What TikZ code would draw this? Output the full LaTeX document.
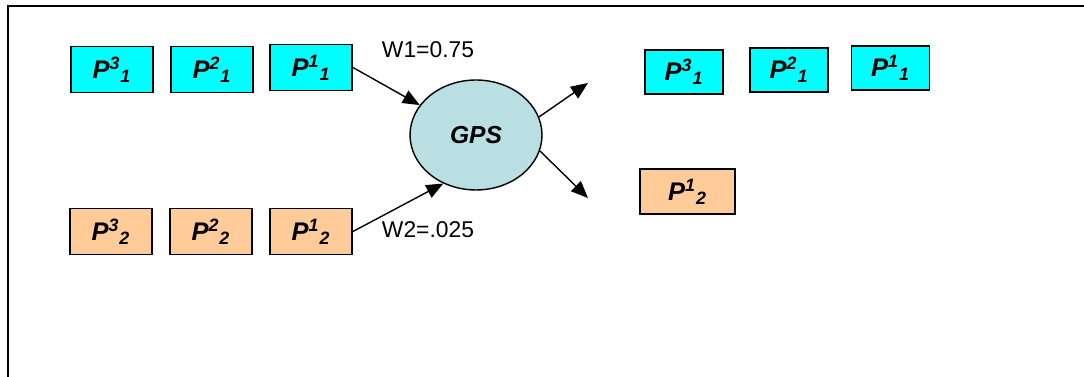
\documentclass[tikz,border=0pt]{standalone}
\usepackage{fontspec}
\setmainfont{Liberation Sans}
\usepackage{xcolor}
\usetikzlibrary{arrows.meta, shapes.geometric}

\definecolor{pktA}{RGB}{0,255,255}
\definecolor{pktB}{RGB}{255,204,153}
\definecolor{gpsfill}{RGB}{186,223,227}

\newcommand{\pkt}[2]{\textbf{\textit{P\textsuperscript{#1}\textsubscript{#2}}}}

\begin{document}
\begin{tikzpicture}[x=0.02cm, y=-0.02cm, >={Triangle[length=3.4mm, width=2.8mm]},
  every node/.style={font=\fontsize{13}{15}\selectfont},
  pbox/.style={draw, line width=1.1pt, minimum width=1.64cm, minimum height=0.92cm, inner sep=0pt, font=\fontsize{14.5}{16}\selectfont}]
  \useasboundingbox (0,0) rectangle (1084,377);
  \draw[line width=1.2pt] (8,380) -- (8,6) -- (1090,6);
  % input queues
  \node[pbox, fill=pktA] (a3) at (112,69.5) {\pkt{3}{1}};
  \node[pbox, fill=pktA] (a2) at (212,69.5) {\pkt{2}{1}};
  \node[pbox, fill=pktA] (a1) at (311,67.5) {\pkt{1}{1}};
  \node[pbox, fill=pktB] (b3) at (111,231.5) {\pkt{3}{2}};
  \node[pbox, fill=pktB] (b2) at (211,231.5) {\pkt{2}{2}};
  \node[pbox, fill=pktB] (b1) at (311,231.5) {\pkt{1}{2}};
  % scheduler
  \node[draw, ellipse, line width=0.8pt, fill=gpsfill, minimum width=2.64cm, minimum height=2.2cm, inner sep=0pt, font=\fontsize{14}{16}\selectfont] (gps) at (476,135) {\textbf{\textit{GPS}}};
  \node (w1) at (428,50) {W1=0.75};
  \node (w2) at (428,230) {W2=.025};
  % output
  \node[pbox, fill=pktA, minimum width=1.56cm, minimum height=0.88cm] (c3) at (684,72) {\pkt{3}{1}};
  \node[pbox, fill=pktA, minimum width=1.56cm, minimum height=0.88cm] (c2) at (789,70) {\pkt{2}{1}};
  \node[pbox, fill=pktA, minimum width=1.56cm, minimum height=0.88cm] (c1) at (890.5,68) {\pkt{1}{1}};
  \node[pbox, fill=pktB, minimum width=1.9cm, minimum height=0.9cm] (d1) at (687.5,191.5) {\pkt{1}{2}};
  \coordinate (outA) at (588,83);
  \coordinate (outB) at (588,198);
  \draw[->, line width=0.8pt] (a1.east) -- (gps.152);
  \draw[->, line width=0.8pt] (b1.east) -- (gps.236);
  \draw[->, line width=0.8pt] (gps.16) -- (outA);
  \draw[->, line width=0.8pt] (gps.-14) -- (outB);
\end{tikzpicture}
\end{document}
